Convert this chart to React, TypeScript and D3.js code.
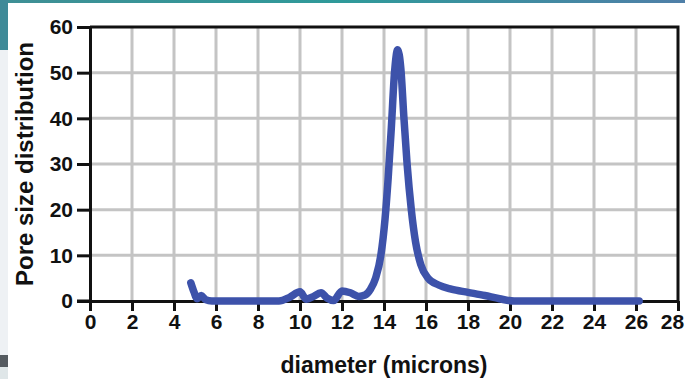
import React, { useEffect, useRef } from 'react';
import * as d3 from 'd3';

// pore size distribution curve
const diameter = [4.8, 4.95, 5.1, 5.3, 5.5, 5.8, 6.5, 8, 9, 9.5, 10, 10.3, 10.6, 11, 11.3, 11.6, 12, 12.4, 12.8, 13.1, 13.35, 13.6, 13.85, 14.05, 14.2, 14.35, 14.5, 14.65, 14.8, 14.95, 15.1, 15.3, 15.5, 15.75, 16.1, 16.6, 17.2, 18, 18.8, 19.5, 20.2, 22, 24, 26.15];
const distribution = [4, 2, 0.5, 1.2, 0.3, 0, 0, 0, 0, 0.8, 2, 0.4, 0.9, 1.8, 0.6, 0.1, 2.2, 1.8, 1.0, 1.3, 2.5, 5, 10, 18, 27, 38, 50, 55, 51, 40, 30, 20, 13, 8, 5, 3.5, 2.6, 1.9, 1.2, 0.5, 0, 0, 0, 0];

const xTicks = [0, 2, 4, 6, 8, 10, 12, 14, 16, 18, 20, 22, 24, 26, 28];
const yTicks = [0, 10, 20, 30, 40, 50, 60];

function App() {
  const svgRef = useRef<SVGSVGElement>(null);

  useEffect(() => {
    const width = 685;
    const height = 379;
    const svg = d3.select(svgRef.current);
    svg.selectAll('*').remove();
    svg.attr('width', width).attr('height', height);

    const font = '"Liberation Sans", Arial, sans-serif';

    // slide background bits around the chart
    const grad = svg.append('defs').append('linearGradient')
      .attr('id', 'topbar').attr('x1', 0).attr('x2', 1);
    grad.append('stop').attr('offset', '0%').attr('stop-color', '#3f8f95');
    grad.append('stop').attr('offset', '50%').attr('stop-color', '#2f9a9a');
    grad.append('stop').attr('offset', '100%').attr('stop-color', '#4f7fa8');
    svg.append('rect').attr('width', width).attr('height', height).attr('fill', '#fff');
    svg.append('rect').attr('width', width).attr('height', 3).attr('fill', 'url(#topbar)');
    svg.append('rect').attr('width', 8).attr('height', 50).attr('fill', '#3f8a98');
    svg.append('rect').attr('y', 50).attr('width', 8).attr('height', 305).attr('fill', '#eef1f4');
    svg.append('rect').attr('y', 355).attr('width', 8).attr('height', 12).attr('fill', '#555b60');
    svg.append('rect').attr('y', 367).attr('width', 8).attr('height', 12).attr('fill', '#dfe6e8');

    const x = d3.scaleLinear().domain([0, 28]).range([90, 678]);
    const y = d3.scaleLinear().domain([0, 60]).range([301, 27]);

    // gridlines
    svg.append('g').selectAll('line')
      .data(xTicks.filter(d => d > 0 && d < 28))
      .join('line')
      .attr('x1', d => x(d)).attr('x2', d => x(d))
      .attr('y1', y(60)).attr('y2', y(0))
      .attr('stroke', '#c4c4c4').attr('stroke-width', 3);
    svg.append('g').selectAll('line')
      .data(yTicks.filter(d => d > 0 && d < 60))
      .join('line')
      .attr('x1', x(0)).attr('x2', x(28))
      .attr('y1', d => y(d)).attr('y2', d => y(d))
      .attr('stroke', '#c4c4c4').attr('stroke-width', 3);

    // frame top and right
    svg.append('path')
      .attr('d', `M${x(0)},${y(60)}H${x(28)}V${y(0)}`)
      .attr('fill', 'none').attr('stroke', '#111').attr('stroke-width', 3);

    const xAxis = svg.append('g')
      .attr('transform', `translate(0,${y(0)})`)
      .call(d3.axisBottom(x).tickValues(xTicks).tickSize(10).tickPadding(3).tickSizeOuter(0));
    const yAxis = svg.append('g')
      .attr('transform', `translate(${x(0)},0)`)
      .call(d3.axisLeft(y).tickValues(yTicks).tickSize(13).tickPadding(4).tickSizeOuter(0));

    [xAxis, yAxis].forEach(g => {
      g.select('.domain').attr('stroke', '#111').attr('stroke-width', 3);
      g.selectAll('.tick line').attr('stroke', '#111').attr('stroke-width', 3);
      g.selectAll('.tick text')
        .attr('fill', '#111')
        .style('font-family', font)
        .style('font-weight', 'bold')
        .style('font-size', '21px');
    });
    // last x label sits right at the edge of the picture
    xAxis.selectAll<SVGTextElement, number>('.tick text')
      .filter(d => d === 28)
      .attr('dx', -6);

    // x axis continues left to meet the 0 tick of y
    svg.append('line')
      .attr('x1', x(0) - 13).attr('x2', x(0))
      .attr('y1', y(0)).attr('y2', y(0))
      .attr('stroke', '#111').attr('stroke-width', 3);

    const line = d3.line<number>()
      .x((_, i) => x(diameter[i]))
      .y(d => y(d))
      .curve(d3.curveMonotoneX);

    svg.append('path')
      .datum(distribution)
      .attr('d', line)
      .attr('fill', 'none')
      .attr('stroke', '#3d52aa')
      .attr('stroke-width', 7.5)
      .attr('stroke-linejoin', 'round')
      .attr('stroke-linecap', 'round');

    svg.append('text')
      .attr('x', (x(0) + x(28)) / 2)
      .attr('y', 373)
      .attr('text-anchor', 'middle')
      .attr('fill', '#111')
      .style('font-family', font)
      .style('font-weight', 'bold')
      .style('font-size', '23px')
      .text('diameter (microns)');

    svg.append('text')
      .attr('transform', `translate(33,${(y(0) + y(60)) / 2}) rotate(-90)`)
      .attr('text-anchor', 'middle')
      .attr('fill', '#111')
      .style('font-family', font)
      .style('font-weight', 'bold')
      .style('font-size', '24px')
      .text('Pore size distribution');
  }, []);

  return <svg ref={svgRef} style={{ position: 'absolute', left: 0, top: 0 }}></svg>;
}

export default App;
